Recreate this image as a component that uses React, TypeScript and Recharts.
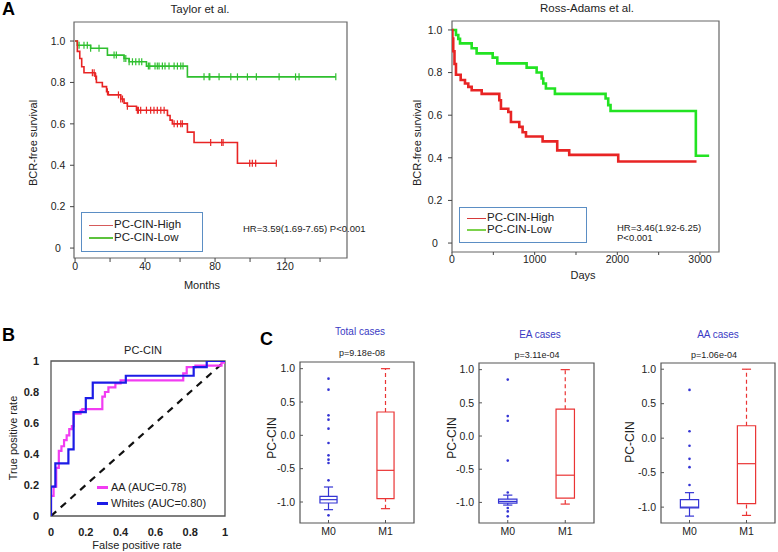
import React from "react";
import {
  ComposedChart,
  Line,
  Scatter,
  XAxis,
  YAxis,
  ReferenceArea,
  ReferenceLine,
} from "recharts";

const FONT = '"Liberation Sans", Arial, Helvetica, sans-serif';

// ---- Panel A, Taylor et al. (months, survival) ----
const taylorHighSteps: [number, number][] = [
  [0, 1], [1.3, 0.95], [2.7, 0.916], [3.8, 0.876], [5.1, 0.847], [11.4, 0.83],
  [12.2, 0.8], [15.6, 0.78], [18, 0.755], [19, 0.74], [26.1, 0.72], [28, 0.7],
  [29.9, 0.685], [35.1, 0.666], [52.8, 0.64], [54.3, 0.618], [55.6, 0.6],
  [64.2, 0.56], [68, 0.51], [92.8, 0.41], [115, 0.41],
];
const taylorHighCensor = [
  9.9, 10.9, 11.8, 18.5, 24.8, 26.1, 27.1, 29.9, 35.6, 36.2, 37.5, 40.8, 43.2,
  45.1, 47, 49, 50.9, 56.6, 58.5, 60.4, 61.3, 77.5, 83.8, 84.6, 99.8, 101.3,
  103.2, 115,
];
const taylorLowSteps: [number, number][] = [
  [0, 1], [1.3, 0.98], [8.9, 0.965], [18.5, 0.932], [28, 0.916], [30.9, 0.9],
  [40.8, 0.879], [64.2, 0.827], [149, 0.827],
];
const taylorLowCensor = [
  2.3, 5.1, 7, 8.9, 13.7, 22.3, 23.6, 28, 29, 30.9, 32.8, 34.7, 36.6, 38.1,
  41.9, 42.7, 45.7, 47, 48, 49.9, 51.4, 53.7, 56.6, 58.5, 60.4, 61.7, 73.7,
  76.6, 77, 82.3, 89, 92.8, 98.5, 103.6, 116.6, 126, 128, 149,
];
const taylorXTicks = [0, 20, 40, 60, 80, 100, 120, 140];
const survTicks = [0, 0.2, 0.4, 0.6, 0.8, 1];

// ---- Panel A, Ross-Adams et al. (days, survival) ----
const rossHighSteps: [number, number][] = [
  [0, 1], [5, 0.96], [15, 0.9], [30, 0.84], [48, 0.79], [105, 0.765],
  [157, 0.749], [197, 0.733], [238, 0.717], [359, 0.7], [572, 0.67],
  [592, 0.63], [681, 0.615], [713, 0.568], [814, 0.545], [854, 0.52],
  [895, 0.5], [1096, 0.477], [1273, 0.435], [1418, 0.414], [2011, 0.383],
  [2958, 0.383],
];
const rossLowSteps: [number, number][] = [
  [0, 1], [48, 0.976], [76, 0.958], [97, 0.937], [238, 0.914], [298, 0.89],
  [492, 0.87], [548, 0.843], [903, 0.823], [1024, 0.8], [1084, 0.772],
  [1104, 0.749], [1136, 0.725], [1245, 0.7], [1858, 0.678], [1890, 0.647],
  [1918, 0.62], [2950, 0.41], [3111, 0.41],
];
const rossXTicks = [0, 500, 1000, 1500, 2000, 2500, 3000];

// ---- Panel B, ROC ----
const rocAA: [number, number][] = [
  [0, 0], [0, 0.13], [0.015, 0.13], [0.015, 0.19], [0.03, 0.19], [0.03, 0.31],
  [0.045, 0.31], [0.045, 0.42], [0.06, 0.42], [0.06, 0.45], [0.075, 0.45],
  [0.075, 0.49], [0.09, 0.49], [0.09, 0.52], [0.105, 0.52], [0.105, 0.56],
  [0.12, 0.56], [0.12, 0.58], [0.13, 0.58], [0.13, 0.66], [0.17, 0.66],
  [0.17, 0.68], [0.18, 0.68], [0.18, 0.69], [0.295, 0.69], [0.295, 0.77],
  [0.31, 0.77], [0.31, 0.8], [0.33, 0.8], [0.33, 0.83], [0.37, 0.83],
  [0.37, 0.855], [0.4, 0.855], [0.4, 0.875], [0.76, 0.875], [0.76, 0.92],
  [0.78, 0.92], [0.78, 0.96], [0.83, 0.96], [0.83, 0.97], [0.98, 0.97],
  [0.98, 0.99], [1, 0.99],
];
const rocWhites: [number, number][] = [
  [0, 0], [0, 0.19], [0.025, 0.19], [0.025, 0.34], [0.1, 0.34], [0.1, 0.43],
  [0.13, 0.43], [0.13, 0.67], [0.2, 0.67], [0.2, 0.76], [0.24, 0.76],
  [0.24, 0.86], [0.43, 0.86], [0.43, 0.905], [0.82, 0.905], [0.82, 0.96],
  [0.895, 0.96], [0.895, 1], [1, 1],
];
const rocChance: [number, number][] = [[0, 0], [1, 1]];
const rocTicks = [0, 0.2, 0.4, 0.6, 0.8, 1];

// ---- Panel C, box plots (M0, M1) ----
type BoxStat = { lo: number; q1: number; med: number; q3: number; hi: number };
const totalM0: BoxStat = { lo: -1.115, q1: -1.015, med: -0.965, q3: -0.915, hi: -0.775 };
const totalM1: BoxStat = { lo: -1.1, q1: -0.95, med: -0.525, q3: 0.35, hi: 1.0 };
const totalOut = [0.85, 0.685, 0.3, 0.235, 0.1, -0.115, -0.3, -0.365, -0.415, -0.675, -1.2];
const eaM0: BoxStat = { lo: -1.04, q1: -1.01, med: -0.985, q3: -0.95, hi: -0.89 };
const eaM1: BoxStat = { lo: -1.025, q1: -0.935, med: -0.59, q3: 0.405, hi: 1.0 };
const eaOut = [0.85, 0.3, 0.23, -0.37, -0.85, -1.085, -1.135, -1.21];
const aaM0: BoxStat = { lo: -1.13, q1: -1.01, med: -1.0, q3: -0.89, hi: -0.79 };
const aaM1: BoxStat = { lo: -1.12, q1: -0.95, med: -0.37, q3: 0.18, hi: 1.0 };
const aaOut = [0.7, 0.1, -0.11, -0.3, -0.42, -0.68];
const boxTicks = [-1, -0.5, 0, 0.5, 1];
const groups = ["M0", "M1"];

const RED = "#e82424";
const GREEN = "#2fbf2f";
const LIME = "#22e322";
const BOXBLUE = "#3434d4";
const BOXRED = "#ea3434";

function survAt(steps: [number, number][], t: number) {
  let s = steps[0][1];
  for (const [ts, v] of steps) if (ts <= t) s = v;
  return s;
}
const stepData = (steps: [number, number][]) => steps.map(([t, s]) => ({ t, s }));
const censorData = (steps: [number, number][], times: number[]) =>
  times.map((t) => ({ t, s: survAt(steps, t) }));
const xyData = (pts: [number, number][]) => pts.map(([x, y]) => ({ x, y }));

const censorMark = (color: string) => (p: any) => (
  <line x1={p.cx} x2={p.cx} y1={p.cy - 3.5} y2={p.cy + 3.5} stroke={color} strokeWidth={1.2} />
);
const outlierDot = (p: any) => <circle cx={p.cx} cy={p.cy} r={1.3} fill={BOXBLUE} />;

function Txt({ x, y, size = 11, anchor = "middle", weight = 400, color = "#222", rotate = 0, children }: any) {
  const tx = anchor === "middle" ? "-50%" : anchor === "end" ? "-100%" : "0";
  return (
    <div
      style={{
        position: "absolute", left: x, top: y,
        transform: `translate(${tx}, -50%) rotate(${rotate}deg)`,
        fontSize: size, fontWeight: weight, color, whiteSpace: "nowrap",
        lineHeight: 1, fontFamily: FONT,
      }}
    >
      {children}
    </div>
  );
}

function Swatch({ x, y, w, h, color }: any) {
  return <div style={{ position: "absolute", left: x, top: y - h / 2, width: w, height: h, background: color }} />;
}

function Abs({ left, top, children }: any) {
  return <div style={{ position: "absolute", left, top }}>{children}</div>;
}

const fmt1 = (v: number) => (v === 0 ? "0" : v.toFixed(1));

function KMTaylor() {
  const xd: [number, number] = [-0.6, 155.4];
  const yd: [number, number] = [-0.048, 1.092];
  return (
    <Abs left={20} top={15}>
      <ComposedChart width={340} height={265} margin={{ top: 7, right: 13, bottom: 0, left: 0 }}>
        <XAxis type="number" dataKey="t" domain={xd} ticks={taylorXTicks} allowDataOverflow
          axisLine={false} tickSize={4} tickMargin={1} stroke="#444" height={22}
          tick={{ fontSize: 10.5, fill: "#222" }}
          tickFormatter={(v: number) => (v % 40 === 0 ? String(v) : "")} />
        <YAxis type="number" domain={yd} ticks={survTicks} allowDataOverflow width={54}
          axisLine={false} tickSize={4} tickMargin={12} stroke="#444"
          tick={{ fontSize: 10.5, fill: "#222", textAnchor: "middle" }} tickFormatter={fmt1} />
        <ReferenceArea x1={xd[0]} x2={xd[1]} y1={yd[0]} y2={yd[1]} fill="none"
          stroke="#666" strokeWidth={1.2} ifOverflow="visible" />
        <Line data={stepData(taylorLowSteps)} dataKey="s" type="stepAfter" stroke={GREEN}
          strokeWidth={1.6} dot={false} isAnimationActive={false} />
        <Line data={stepData(taylorHighSteps)} dataKey="s" type="stepAfter" stroke={RED}
          strokeWidth={1.6} dot={false} isAnimationActive={false} />
        <Scatter data={censorData(taylorLowSteps, taylorLowCensor)} dataKey="s"
          shape={censorMark(GREEN)} isAnimationActive={false} />
        <Scatter data={censorData(taylorHighSteps, taylorHighCensor)} dataKey="s"
          shape={censorMark(RED)} isAnimationActive={false} />
      </ComposedChart>
    </Abs>
  );
}

function KMRoss() {
  const xd: [number, number] = [0, 3230];
  const yd: [number, number] = [-0.042, 1.042];
  return (
    <Abs left={400} top={15}>
      <ComposedChart width={330} height={252} margin={{ top: 6, right: 11, bottom: 0, left: 0 }}>
        <XAxis type="number" dataKey="t" domain={xd} ticks={rossXTicks} allowDataOverflow
          axisLine={false} tickSize={3} tickMargin={1} stroke="#444" height={15}
          tick={{ fontSize: 10.5, fill: "#222" }}
          tickFormatter={(v: number) => (v % 1000 === 0 ? String(v) : "")} />
        <YAxis type="number" domain={yd} ticks={survTicks} allowDataOverflow width={52}
          axisLine={false} tickSize={4} tickMargin={13} stroke="#444"
          tick={{ fontSize: 10.5, fill: "#222", textAnchor: "middle" }} tickFormatter={fmt1} />
        <ReferenceArea x1={xd[0]} x2={xd[1]} y1={yd[0]} y2={yd[1]} fill="none"
          stroke="#666" strokeWidth={1.2} ifOverflow="visible" />
        <Line data={stepData(rossLowSteps)} dataKey="s" type="stepAfter" stroke={LIME}
          strokeWidth={2.6} dot={false} isAnimationActive={false} />
        <Line data={stepData(rossHighSteps)} dataKey="s" type="stepAfter" stroke={RED}
          strokeWidth={2.6} dot={false} isAnimationActive={false} />
      </ComposedChart>
    </Abs>
  );
}

function Roc() {
  return (
    <Abs left={0} top={340}>
      <ComposedChart width={240} height={200} margin={{ top: 21, right: 15, bottom: 0, left: 0 }}>
        <XAxis type="number" dataKey="x" domain={[0, 1]} ticks={rocTicks} allowDataOverflow
          axisLine={false} tickLine={false} tickMargin={6} height={24}
          tick={{ fontSize: 11, fill: "#222", fontWeight: 700 }}
          tickFormatter={(v: number) => (v === 0 || v === 1 ? String(v) : v.toFixed(1))} />
        <YAxis type="number" domain={[0, 1]} ticks={rocTicks} allowDataOverflow width={51}
          axisLine={false} tickLine={false} tickMargin={6}
          tick={{ fontSize: 11, fill: "#222", fontWeight: 700 }}
          tickFormatter={(v: number) => (v === 0 || v === 1 ? String(v) : v.toFixed(1))} />
        <ReferenceArea x1={0} x2={1} y1={0} y2={1} fill="none" stroke="#555"
          strokeWidth={1.3} ifOverflow="visible" />
        <Line data={xyData(rocChance)} dataKey="y" type="linear" stroke="#111"
          strokeWidth={2.2} strokeDasharray="7 6" dot={false} isAnimationActive={false} />
        <Line data={xyData(rocAA)} dataKey="y" type="linear" stroke="#f23cf2"
          strokeWidth={2.2} dot={false} isAnimationActive={false} />
        <Line data={xyData(rocWhites)} dataKey="y" type="linear" stroke="#1c1ce6"
          strokeWidth={2.2} dot={false} isAnimationActive={false} />
      </ComposedChart>
    </Abs>
  );
}

function BoxPlot({ left, top, width, frame, yd, m0, m1, out, half }: any) {
  const [fl, ft, fr, fb] = frame;
  const height = 185;
  const cap = 0.08;
  const parts = [
    { pos: 1, s: m0 as BoxStat, c: BOXBLUE, dash: undefined },
    { pos: 2, s: m1 as BoxStat, c: BOXRED, dash: "4 3" },
  ];
  return (
    <Abs left={left} top={top}>
      <ComposedChart width={width} height={height}
        margin={{ top: ft - top, right: left + width - fr, bottom: 0, left: 0 }}>
        <XAxis type="number" dataKey="x" domain={[0.5, 2.5]} ticks={[1, 2]} allowDataOverflow
          axisLine={false} tickSize={-3} tickMargin={8} stroke="#555" height={top + height - fb}
          tick={{ fontSize: 10.5, fill: "#222" }} tickFormatter={(v: number) => groups[v - 1]} />
        <YAxis type="number" domain={yd} ticks={boxTicks} allowDataOverflow width={fl - left}
          axisLine={false} tickSize={-3} tickMargin={8} stroke="#555"
          tick={{ fontSize: 10.5, fill: "#222" }} tickFormatter={(v: number) => v.toFixed(1)} />
        <ReferenceArea x1={0.5} x2={2.5} y1={yd[0]} y2={yd[1]} fill="none" stroke="#555"
          strokeWidth={1.2} ifOverflow="visible" />
        {parts.map(({ pos, s, c, dash }) => (
          <React.Fragment key={pos}>
            <ReferenceLine segment={[{ x: pos, y: s.q3 }, { x: pos, y: s.hi }]} stroke={c}
              strokeWidth={1.2} strokeDasharray={dash} />
            <ReferenceLine segment={[{ x: pos, y: s.lo }, { x: pos, y: s.q1 }]} stroke={c}
              strokeWidth={1.2} strokeDasharray={dash} />
            <ReferenceLine segment={[{ x: pos - cap, y: s.hi }, { x: pos + cap, y: s.hi }]}
              stroke={c} strokeWidth={1.2} />
            <ReferenceLine segment={[{ x: pos - cap, y: s.lo }, { x: pos + cap, y: s.lo }]}
              stroke={c} strokeWidth={1.2} />
            <ReferenceArea x1={pos - half} x2={pos + half} y1={s.q1} y2={s.q3} fill="#fff"
              fillOpacity={1} stroke={c} strokeWidth={1.2} />
            <ReferenceLine segment={[{ x: pos - half, y: s.med }, { x: pos + half, y: s.med }]}
              stroke={c} strokeWidth={1.2} />
          </React.Fragment>
        ))}
        <Scatter data={out.map((y: number) => ({ x: 1, y }))} dataKey="y" shape={outlierDot}
          isAnimationActive={false} />
      </ComposedChart>
    </Abs>
  );
}

export default function App() {
  return (
    <div style={{ position: "relative", width: 778, height: 552, background: "#fff", overflow: "hidden", fontFamily: FONT }}>
      <style>{"body{margin:0}"}</style>

      {/* Panel A */}
      <Txt x={2} y={9} size={18} weight={700} anchor="start" color="#000">A</Txt>
      <Txt x={200} y={10} size={11.5}>Taylor et al.</Txt>
      <Txt x={587} y={9} size={11.5}>Ross-Adams et al.</Txt>
      <KMTaylor />
      <KMRoss />
      <Txt x={33} y={143} size={11} rotate={-90}>BCR-free survival</Txt>
      <Txt x={202} y={285} size={11}>Months</Txt>
      <Txt x={417} y={143} size={11} rotate={-90}>BCR-free survival</Txt>
      <Txt x={583} y={275} size={11}>Days</Txt>

      <div style={{ position: "absolute", left: 81, top: 212, width: 120, height: 38, border: "1.5px solid #5b8ec4", background: "#fff" }} />
      <Swatch x={89} y={225} w={24} h={1} color="#d65a5a" />
      <Txt x={114} y={225} size={11.5} anchor="start">PC-CIN-High</Txt>
      <Swatch x={89} y={238} w={24} h={1.4} color="#5cc23c" />
      <Txt x={114} y={238} size={11.5} anchor="start">PC-CIN-Low</Txt>
      <Txt x={243} y={229} size={9.5} anchor="start">HR=3.59(1.69-7.65) P&lt;0.001</Txt>

      <div style={{ position: "absolute", left: 459, top: 207, width: 126, height: 34, border: "1.5px solid #5b8ec4", background: "#fff" }} />
      <Swatch x={467} y={218} w={19} h={1} color="#d63a3a" />
      <Txt x={487} y={218} size={11.5} anchor="start">PC-CIN-High</Txt>
      <Swatch x={467} y={230} w={19} h={1.6} color="#7cd24c" />
      <Txt x={487} y={230} size={11.5} anchor="start">PC-CIN-Low</Txt>
      <Txt x={617} y={228} size={9.5} anchor="start">HR=3.46(1.92-6.25)</Txt>
      <Txt x={617} y={238} size={9.5} anchor="start">P&lt;0.001</Txt>

      {/* Panel B */}
      <Txt x={2} y={335} size={18} weight={700} anchor="start" color="#000">B</Txt>
      <Txt x={143} y={350} size={11}>PC-CIN</Txt>
      <Roc />
      <Txt x={13} y={438} size={11} rotate={-90}>True positive rate</Txt>
      <Txt x={137} y={545} size={11}>False positive rate</Txt>
      <Swatch x={97} y={487} w={11} h={3} color="#f23cf2" />
      <Txt x={111} y={487} size={11} anchor="start">AA (AUC=0.78)</Txt>
      <Swatch x={97} y={503} w={11} h={3} color="#1c1ce6" />
      <Txt x={111} y={503} size={11} anchor="start">Whites (AUC=0.80)</Txt>

      {/* Panel C */}
      <Txt x={260} y={339} size={18} weight={700} anchor="start" color="#000">C</Txt>
      <BoxPlot left={275} top={355} width={145} frame={[300, 362, 414, 523]} yd={[-1.315, 1.1]}
        m0={totalM0} m1={totalM1} out={totalOut} half={0.15} />
      <BoxPlot left={455} top={355} width={145} frame={[479, 363, 594, 523]} yd={[-1.31, 1.1]}
        m0={eaM0} m1={eaM1} out={eaOut} half={0.16} />
      <BoxPlot left={636} top={355} width={142} frame={[661, 363, 775, 523]} yd={[-1.23, 1.09]}
        m0={aaM0} m1={aaM1} out={aaOut} half={0.16} />

      <Txt x={360} y={332} size={10} color="#3a3ac4">Total cases</Txt>
      <Txt x={362} y={353} size={9}>p=9.18e-08</Txt>
      <Txt x={272} y={438} size={12} rotate={-90}>PC-CIN</Txt>
      <Txt x={540} y={335} size={10} color="#3a3ac4">EA cases</Txt>
      <Txt x={537} y={355} size={9}>p=3.11e-04</Txt>
      <Txt x={452} y={438} size={12} rotate={-90}>PC-CIN</Txt>
      <Txt x={718} y={335} size={10} color="#3a3ac4">AA cases</Txt>
      <Txt x={714} y={355} size={9}>p=1.06e-04</Txt>
      <Txt x={630} y={442} size={12} rotate={-90}>PC-CIN</Txt>
    </div>
  );
}
